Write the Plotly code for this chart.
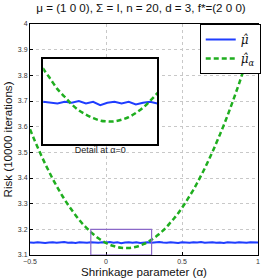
import plotly.graph_objects as go

alpha = [-0.5, -0.475, -0.45, -0.425, -0.4, -0.375, -0.35, -0.325, -0.3, -0.275,
         -0.25, -0.225, -0.2, -0.175, -0.15, -0.125, -0.1, -0.075, -0.05, -0.025,
         0.0, 0.025, 0.05, 0.075, 0.1, 0.125, 0.15, 0.175, 0.2, 0.225,
         0.25, 0.275, 0.3, 0.325, 0.35, 0.375, 0.4, 0.425, 0.45, 0.475,
         0.5, 0.525, 0.55, 0.575, 0.6, 0.625, 0.65, 0.675, 0.7, 0.725,
         0.75, 0.775, 0.8, 0.825, 0.85, 0.875, 0.9, 0.925, 0.95, 0.975, 1.0]

risk_mu = [3.149, 3.148, 3.150, 3.149, 3.147, 3.149, 3.150, 3.148, 3.149, 3.151,
           3.148, 3.149, 3.147, 3.150, 3.149, 3.148, 3.150, 3.149, 3.148, 3.150,
           3.149, 3.151, 3.148, 3.150, 3.146, 3.149, 3.150, 3.148, 3.150, 3.147,
           3.149, 3.150, 3.148, 3.149, 3.151, 3.149, 3.148, 3.150, 3.149, 3.147,
           3.150, 3.149, 3.148, 3.150, 3.149, 3.151, 3.148, 3.149, 3.150, 3.148,
           3.149, 3.147, 3.150, 3.149, 3.148, 3.150, 3.149, 3.148, 3.150, 3.149, 3.149]

risk_mu_alpha = [3.590, 3.554, 3.520, 3.487, 3.455, 3.425, 3.396, 3.369, 3.343, 3.319,
                 3.296, 3.275, 3.255, 3.236, 3.219, 3.204, 3.189, 3.177, 3.165, 3.156,
                 3.147, 3.140, 3.135, 3.131, 3.128, 3.127, 3.127, 3.129, 3.132, 3.137,
                 3.143, 3.151, 3.160, 3.170, 3.182, 3.195, 3.210, 3.227, 3.244, 3.263,
                 3.284, 3.306, 3.330, 3.354, 3.381, 3.409, 3.438, 3.469, 3.501, 3.535,
                 3.570, 3.606, 3.644, 3.684, 3.725, 3.767, 3.811, 3.856, 3.903, 3.951, 4.000]

x_range = [-0.5, 1.0]
y_range = [3.1, 4.0]
y_ticks = [3.1, 3.2, 3.3, 3.4, 3.5, 3.6, 3.7, 3.8, 3.9, 4.0]
y_tick_labels = ["3.1", "3.2", "3.3", "3.4", "3.5", "3.6", "3.7", "3.8", "3.9", "4"]
x_ticks = [-0.5, 0, 0.5, 1]
x_tick_labels = ["\u22120.5", "0", "0.5", "1"]
detail_x = [-0.1, 0.3]
detail_y = [3.1, 3.2]

BLUE = "#1f3dff"
GREEN = "#1fae1f"
GREEN_DASH = "5px,3px"

fig = go.Figure()

fig.add_trace(go.Scatter(x=alpha, y=risk_mu, mode="lines", name="<i>\u03bc\u0302</i>",
                         line=dict(color=BLUE, width=2), xaxis="x", yaxis="y"))
fig.add_trace(go.Scatter(x=alpha, y=risk_mu_alpha, mode="lines",
                         name="<i>\u03bc\u0302</i><sub><i>\u03b1</i></sub>",
                         line=dict(color=GREEN, width=2.5, dash=GREEN_DASH, shape="spline"),
                         xaxis="x", yaxis="y"))

# inset background (opaque white)
fig.add_trace(go.Scatter(x=[detail_x[0], detail_x[1], detail_x[1], detail_x[0], detail_x[0]],
                         y=[detail_y[0], detail_y[0], detail_y[1], detail_y[1], detail_y[0]],
                         mode="lines", fill="toself", fillcolor="white",
                         line=dict(width=0, color="white"), hoverinfo="skip",
                         showlegend=False, xaxis="x2", yaxis="y2"))
fig.add_trace(go.Scatter(x=alpha, y=risk_mu, mode="lines", showlegend=False,
                         line=dict(color=BLUE, width=2), xaxis="x2", yaxis="y2"))
fig.add_trace(go.Scatter(x=alpha, y=risk_mu_alpha, mode="lines", showlegend=False,
                         line=dict(color=GREEN, width=2.5, dash=GREEN_DASH, shape="spline"),
                         xaxis="x2", yaxis="y2"))

fig.add_shape(type="rect", xref="x", yref="y",
              x0=detail_x[0], x1=detail_x[1], y0=detail_y[0], y1=detail_y[1],
              line=dict(color="#8a68c8", width=1.2), layer="above")

tickfont = dict(family="Liberation Sans, Arial, sans-serif", size=7, color="#333")
grid = dict(showgrid=True, gridcolor="#c8c8c8", griddash="dot", gridwidth=1)

fig.update_layout(
    width=266, height=280,
    margin=dict(l=30, r=5, t=24, b=25),
    paper_bgcolor="white", plot_bgcolor="white",
    font=dict(family="Liberation Sans, Arial, sans-serif", color="#111"),
    title=dict(text="\u03bc = (1 0 0), \u03a3 = I, n = 20, d = 3, f*=(2 0 0)",
               x=0.53, xanchor="center", y=0.985, yanchor="top",
               font=dict(size=11.6, color="#111")),
    xaxis=dict(domain=[0, 1], range=x_range, tickvals=x_ticks, ticktext=x_tick_labels,
               ticks="inside", ticklen=3, tickcolor="black", tickfont=tickfont,
               showline=True, linecolor="black", linewidth=1, mirror=True,
               zeroline=False, title=dict(text="Shrinkage parameter (\u03b1)",
                                          font=dict(size=11.6), standoff=1), **grid),
    yaxis=dict(domain=[0, 1], range=y_range, tickvals=y_ticks, ticktext=y_tick_labels,
               ticks="inside", ticklen=3, tickcolor="black", tickfont=tickfont,
               showline=True, linecolor="black", linewidth=1, mirror=True,
               zeroline=False, title=dict(text="Risk (10000 iterations)",
                                          font=dict(size=11.6), standoff=2), **grid),
    xaxis2=dict(domain=[0.058, 0.558], range=detail_x, anchor="y2",
                showticklabels=False, ticks="", showgrid=False, zeroline=False,
                showline=True, linecolor="black", linewidth=2, mirror=True,
                title=dict(text="Detail at \u03b1=0", font=dict(size=9, color="#222"),
                           standoff=1)),
    yaxis2=dict(domain=[0.479, 0.847], range=detail_y, anchor="x2",
                showticklabels=False, ticks="", showgrid=False, zeroline=False,
                showline=True, linecolor="black", linewidth=2, mirror=True),
    legend=dict(x=1.012, xanchor="right", y=1.0, yanchor="top",
                bgcolor="white", bordercolor="black", borderwidth=1,
                font=dict(family="DejaVu Serif, serif", size=12, color="#111"),
                tracegroupgap=0, itemwidth=30),
    showlegend=True,
)

fig.write_html("out.html", config={"displayModeBar": False},
               post_script="document.body.style.margin='0px';")
